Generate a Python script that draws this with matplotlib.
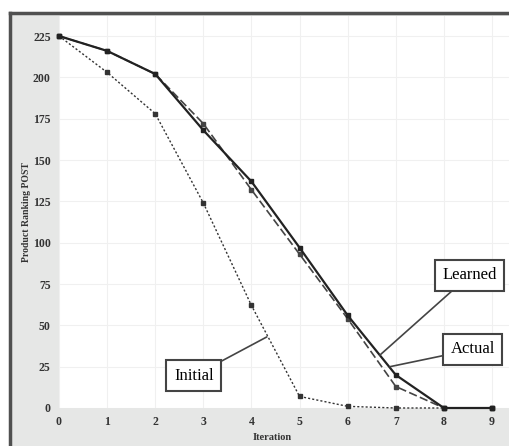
import numpy as np
import matplotlib.pyplot as plt
from matplotlib.patches import Rectangle

iterations = [0, 1, 2, 3, 4, 5, 6, 7, 8, 9]
initial = [225, 203, 178, 124, 62, 7, 1, 0, 0, 0]
learned = [225, 216, 202, 168, 137, 97, 56, 20, 0, 0]
actual = [225, 216, 202, 172, 132, 93, 54, 13, 0, 0]

y_ticks = [0, 25, 50, 75, 100, 125, 150, 175, 200, 225]

W, H = 509, 446
fig = plt.figure(figsize=(W / 100, H / 100), dpi=100)
fig.patch.set_facecolor('white')

# grey panel inside the outer frame
fig.add_artist(Rectangle((10 / W, 0), 1, 1 - 13 / H, transform=fig.transFigure,
                         facecolor='#e6e7e6', edgecolor='none', zorder=-5))
fig.add_artist(plt.Line2D([10 / W, 1], [1 - 13 / H, 1 - 13 / H], transform=fig.transFigure,
                          color='#505050', lw=2.5, zorder=-4))
fig.add_artist(plt.Line2D([10 / W, 10 / W], [0, 1 - 13 / H], transform=fig.transFigure,
                          color='#505050', lw=2.5, zorder=-4))

ax = fig.add_axes([59 / W, 1 - 408 / H, (W - 59) / W, (408 - 16) / H])
ax.set_zorder(2)
ax.set_facecolor('white')
ax.set_xlim(0, 9 * (W - 59) / (492 - 59))
ax.set_ylim(0, 225 + 20 / 1.653)

ax.plot(iterations, initial, color='#333333', lw=1.0, ls=(0, (1.5, 1.5)),
        marker='s', markersize=2.2, clip_on=False)
ax.plot(iterations, actual, color='#444444', lw=1.2, ls=(0, (5, 2)),
        marker='s', markersize=2.5, clip_on=False)
ax.plot(iterations, learned, color='#222222', lw=1.6, marker='s', markersize=2.5,
        clip_on=False)

ax.set_xticks(iterations)
ax.set_yticks(y_ticks)
ax.grid(True, color='#f0f0f0', lw=0.8)
ax.set_axisbelow(True)
for s in ax.spines.values():
    s.set_visible(False)
ax.tick_params(length=0, pad=6, labelsize=8.5, colors='#333333')
for lab in ax.get_xticklabels() + ax.get_yticklabels():
    lab.set_family('Liberation Serif')
    lab.set_fontweight('bold')

fig.text(27 / W, 1 - 212 / H, 'Product Ranking POST', rotation=90, ha='center', va='center',
         family='Liberation Serif', fontweight='bold', fontsize=7, color='#333333')
fig.text(272 / W, 1 - 437 / H, 'Iteration', ha='center', va='center',
         family='Liberation Serif', fontweight='bold', fontsize=7.5, color='#333333')

box = dict(boxstyle='square,pad=0.45', facecolor='white', edgecolor='#444444', lw=1.5)
line = dict(arrowstyle='-', color='#444444', lw=1.2, shrinkA=0, shrinkB=0)
ax.annotate('Initial', xy=(4.32, 43), xytext=(2.8, 19.4), ha='center', va='center',
            family='Liberation Serif', fontsize=12, bbox=box, arrowprops=line)
ax.annotate('Learned', xy=(6.67, 32), xytext=(8.53, 80.2), ha='center', va='center',
            family='Liberation Serif', fontsize=12, bbox=box, arrowprops=line)
ax.annotate('Actual', xy=(6.88, 25), xytext=(8.6, 35.4), ha='center', va='center',
            family='Liberation Serif', fontsize=12, bbox=box, arrowprops=line)

fig.savefig('out.png', dpi=100)
